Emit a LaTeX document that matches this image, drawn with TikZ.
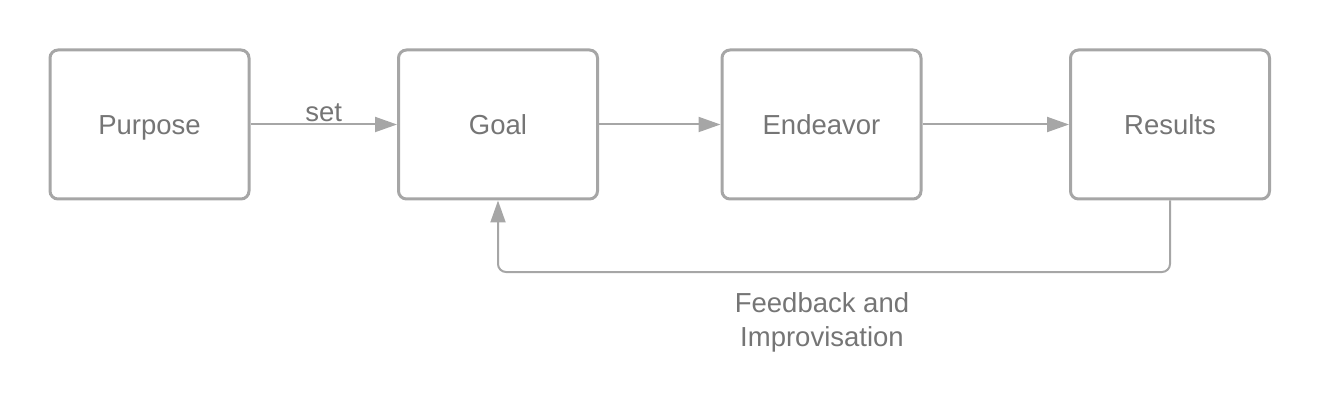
\documentclass[tikz,border=0pt]{standalone}
\usepackage{fontspec}
\setmainfont{Liberation Sans}
\usetikzlibrary{arrows.meta}
\definecolor{boxgray}{HTML}{A6A6A6}
\definecolor{txtgray}{HTML}{757575}
\begin{document}
\begin{tikzpicture}[x=1pt,y=-1pt,
  stepbox/.style={draw=boxgray, line width=3pt, rounded corners=8pt, minimum width=199pt, minimum height=149pt, inner sep=0pt, text height=23pt, text depth=2pt, text=txtgray, font=\fontsize{27.5}{30}\selectfont},
  conn/.style={draw=boxgray, line width=2pt, -{Triangle[length=22pt,width=15pt]}},
  lbl/.style={text=txtgray, font=\fontsize{27.5}{34}\selectfont, align=center}]
\useasboundingbox (0,0) rectangle (1320,414);
\node[stepbox] (purpose) at (149.5,124.5) {Purpose};
\node[stepbox] (goal) at (498,124.5) {Goal};
\node[stepbox] (endeavor) at (821.5,124.5) {Endeavor};
\node[stepbox] (results) at (1170,124.5) {Results};
\draw[conn] (purpose.east) -- node[lbl, above, yshift=-2pt] (setlbl) {set} (goal.west);
\draw[conn] (goal.east) -- (endeavor.west);
\draw[conn] (endeavor.east) -- (results.west);
\coordinate (c1) at (1170,272);
\coordinate (c2) at (498,272);
\draw[conn, rounded corners=8pt] (results.south) -- (c1) -- (c2) -- (goal.south);
\node[lbl] (fb) at (822,322) {Feedback and\\Improvisation};
\end{tikzpicture}
\end{document}
